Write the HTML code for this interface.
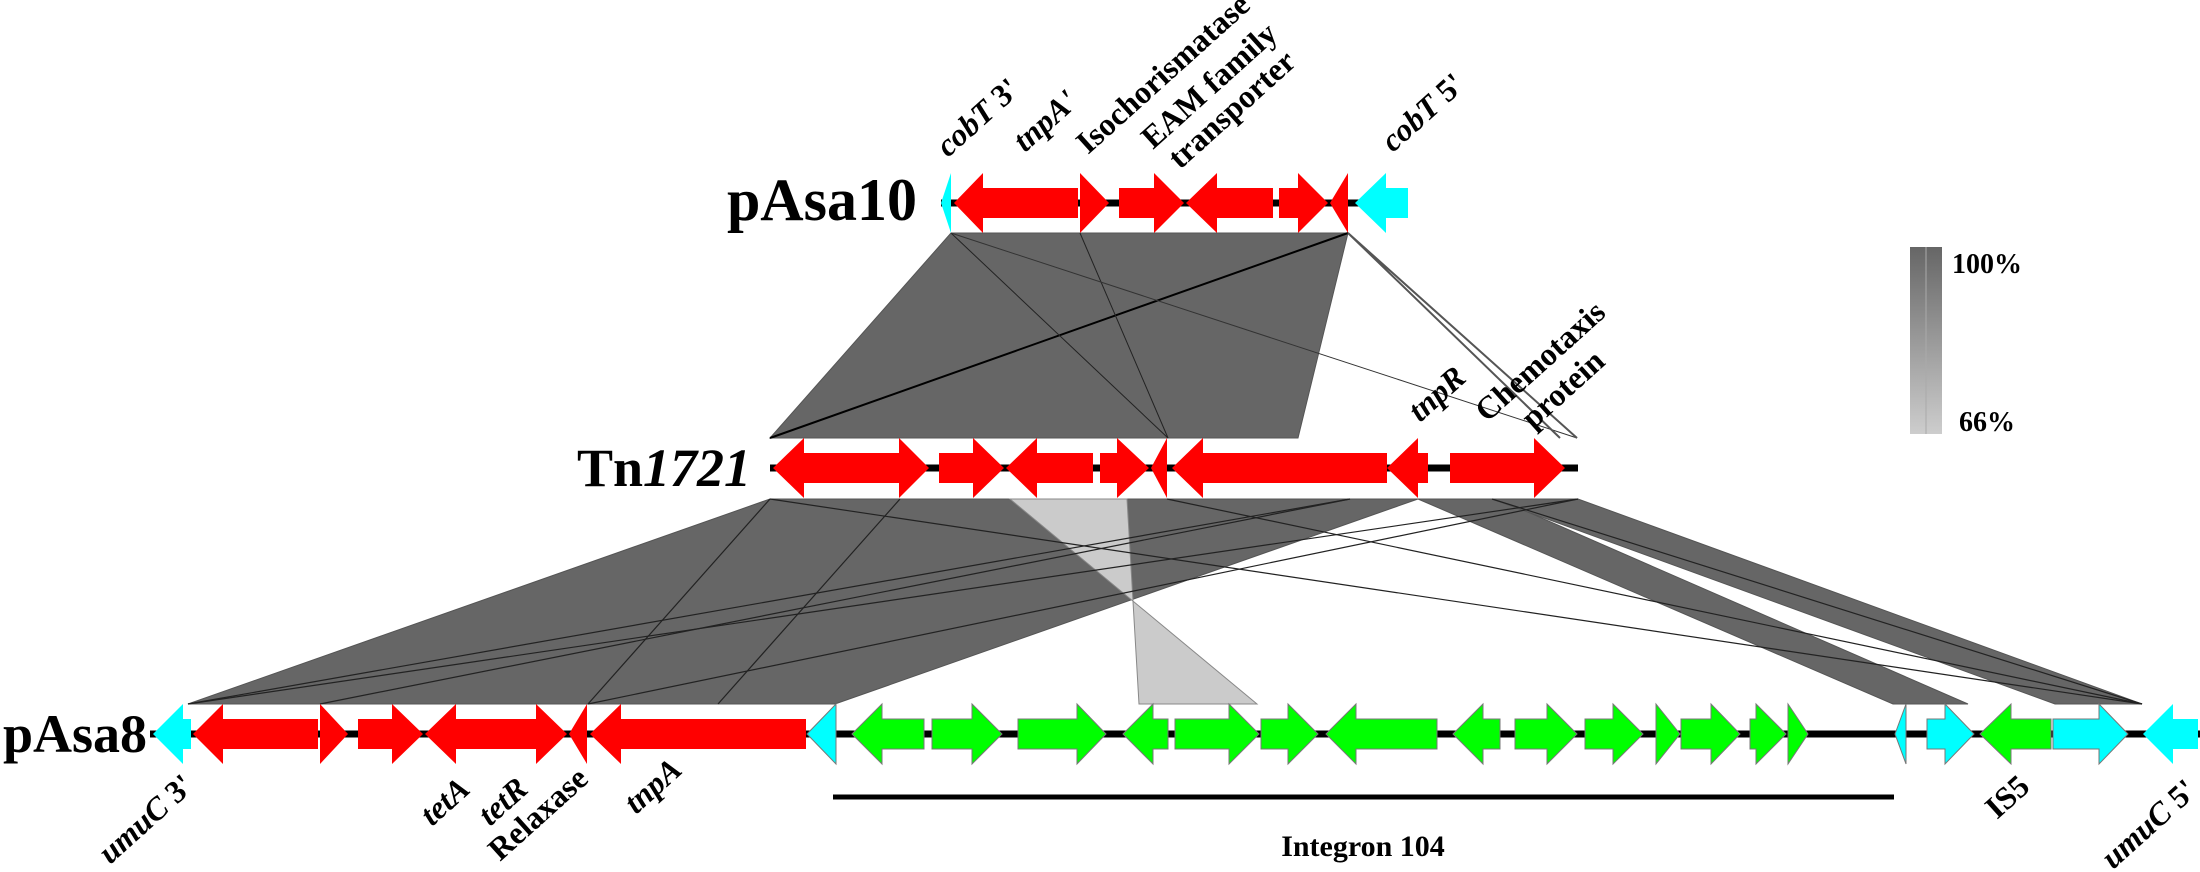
<!DOCTYPE html>
<html><head><meta charset="utf-8"><style>
html,body{margin:0;padding:0;background:#fff;}
svg{display:block;}
text{font-family:"Liberation Serif",serif;font-weight:bold;fill:#000;}
.i{font-style:italic;}
</style></head><body>
<svg width="2200" height="872" viewBox="0 0 2200 872" xmlns="http://www.w3.org/2000/svg">
<defs>
<linearGradient id="lg" x1="0" y1="0" x2="0" y2="1"><stop offset="0" stop-color="#666"/><stop offset="1" stop-color="#cdcdcd"/></linearGradient>
</defs>
<!-- top shading -->
<polygon points="951,233 1348,233 1298,438 770,438" fill="#666" stroke="#555" stroke-width="1"/>
<line x1="770" y1="438" x2="1348" y2="233" stroke="#000" stroke-width="2"/>
<line x1="951" y1="233" x2="1168" y2="438" stroke="#222" stroke-width="1"/>
<line x1="1080" y1="233" x2="1168" y2="438" stroke="#222" stroke-width="1"/>
<line x1="951" y1="233" x2="1577" y2="438" stroke="#333" stroke-width="1"/>
<polyline points="1560,438 1348,233 1577,438" fill="none" stroke="#555" stroke-width="2"/>
<!-- bottom shading -->
<polygon points="770,499 1418,499 835,704 188,704" fill="#666" stroke="#555" stroke-width="1"/>
<path d="M1010,499 L1127,499 L1139,704 L1257,704 Z" fill="#cbcbcb" stroke="#888" stroke-width="1"/>
<polygon points="1418,499 1498,499 1968,704 1893,704" fill="#666" stroke="#555" stroke-width="1"/>
<polygon points="1492,499 1578,499 2142,704 2055,704" fill="#666" stroke="#555" stroke-width="1"/>
<g stroke="#222" stroke-width="1.2" fill="none">
<line x1="770" y1="499" x2="588" y2="704"/>
<line x1="900" y1="499" x2="718" y2="704"/>
<line x1="1578" y1="499" x2="188" y2="704"/>
<line x1="1350" y1="499" x2="188" y2="704"/>
<line x1="1578" y1="499" x2="588" y2="704"/>
<line x1="1350" y1="499" x2="320" y2="704"/>
<line x1="770" y1="499" x2="2142" y2="704"/>
<line x1="1167" y1="499" x2="2142" y2="704"/>
<line x1="1492" y1="499" x2="2142" y2="704"/>
</g>
<!-- backbone lines -->
<line x1="941" y1="203" x2="1362" y2="203" stroke="#000" stroke-width="7"/>
<line x1="770" y1="468" x2="1578" y2="468" stroke="#000" stroke-width="7"/>
<line x1="150" y1="734" x2="2200" y2="734" stroke="#000" stroke-width="7"/>
<!-- pAsa10 genes -->
<g fill="#f00">
<polygon points="954,203 983,173 983,188 1078,188 1078,218 983,218 983,233"/>
<polygon points="1080,173 1109,203 1080,233"/>
<polygon points="1119,188 1154,188 1154,173 1184,203 1154,233 1154,218 1119,218"/>
<polygon points="1186,203 1217,173 1217,188 1273,188 1273,218 1217,218 1217,233"/>
<polygon points="1279,188 1298,188 1298,173 1328,203 1298,233 1298,218 1279,218"/>
<polygon points="1330,203 1348,173 1348,233"/>
</g>
<g fill="#0ff">
<polygon points="941,203 951,173 951,233"/>
<polygon points="1355,203 1386,173 1386,188 1408,188 1408,218 1386,218 1386,233"/>
</g>
<!-- Tn1721 genes -->
<g fill="#f00">
<polygon points="773,468 804,438 804,453 899,453 899,483 804,483 804,498"/>
<polygon points="899,438 929,468 899,498"/>
<polygon points="939,453 973,453 973,438 1004,468 973,498 973,483 939,483"/>
<polygon points="1006,468 1037,438 1037,453 1093,453 1093,483 1037,483 1037,498"/>
<polygon points="1100,453 1117,453 1117,438 1149,468 1117,498 1117,483 1100,483"/>
<polygon points="1151,468 1167,438 1167,498"/>
<polygon points="1172,468 1203,438 1203,453 1387,453 1387,483 1203,483 1203,498"/>
<polygon points="1387,468 1418,438 1418,453 1428,453 1428,483 1418,483 1418,498"/>
<polygon points="1450,453 1534,453 1534,438 1565,468 1534,498 1534,483 1450,483"/>
</g>
<!-- pAsa8 genes -->
<g fill="#f00">
<polygon points="193,734 223,704 223,719 318,719 318,749 223,749 223,764"/>
<polygon points="320,704 348,734 320,764"/>
<polygon points="358,719 392,719 392,704 423,734 392,764 392,749 358,749"/>
<polygon points="425,734 456,704 456,719 536,719 536,749 456,749 456,764"/>
<polygon points="536,704 567,734 536,764"/>
<polygon points="569,734 587,704 587,764"/>
<polygon points="590,734 621,704 621,719 806,719 806,749 621,749 621,764"/>
</g>
<g fill="#0ff" stroke="#777" stroke-width="1">
<polygon points="153,734 183,704 183,719 191,719 191,749 183,749 183,764" stroke="none"/>
<polygon points="807,734 836,704 836,764"/>
<polygon points="1895,734 1906,704 1906,764"/>
<polygon points="1927,719 1945,719 1945,704 1974,734 1945,764 1945,749 1927,749"/>
<polygon points="2053,719 2099,719 2099,704 2128,734 2099,764 2099,749 2053,749"/>
<polygon points="2143,734 2173,704 2173,719 2198,719 2198,749 2173,749 2173,764" stroke="none"/>
</g>
<g fill="#0f0" stroke="#777" stroke-width="1">
<polygon points="852,734 882,704 882,719 924,719 924,749 882,749 882,764"/>
<polygon points="932,719 972,719 972,704 1002,734 972,764 972,749 932,749"/>
<polygon points="1018,719 1077,719 1077,704 1106,734 1077,764 1077,749 1018,749"/>
<polygon points="1123,734 1153,704 1153,719 1168,719 1168,749 1153,749 1153,764"/>
<polygon points="1175,719 1229,719 1229,704 1259,734 1229,764 1229,749 1175,749"/>
<polygon points="1261,719 1288,719 1288,704 1318,734 1288,764 1288,749 1261,749"/>
<polygon points="1326,734 1356,704 1356,719 1437,719 1437,749 1356,749 1356,764"/>
<polygon points="1453,734 1483,704 1483,719 1500,719 1500,749 1483,749 1483,764"/>
<polygon points="1515,719 1547,719 1547,704 1577,734 1547,764 1547,749 1515,749"/>
<polygon points="1585,719 1613,719 1613,704 1643,734 1613,764 1613,749 1585,749"/>
<polygon points="1656,704 1680,734 1656,764"/>
<polygon points="1681,719 1711,719 1711,704 1740,734 1711,764 1711,749 1681,749"/>
<polygon points="1750,719 1756,719 1756,704 1786,734 1756,764 1756,749 1750,749"/>
<polygon points="1788,704 1808,734 1788,764"/>
<polygon points="1980,734 2011,704 2011,719 2051,719 2051,749 2011,749 2011,764"/>
</g>
<!-- integron line -->
<line x1="833" y1="797" x2="1894" y2="797" stroke="#000" stroke-width="5"/>
<text x="1363" y="856" font-size="30" text-anchor="middle">Integron 104</text>
<!-- track names -->
<text x="917" y="220" font-size="60" text-anchor="end">pAsa10</text>
<text x="751" y="486" font-size="54" text-anchor="end">Tn<tspan class="i">1721</tspan></text>
<text x="3" y="752" font-size="54">pAsa8</text>
<!-- rotated labels -->
<g font-size="32">
<text transform="translate(948,158) rotate(-42)"><tspan class="i">cobT</tspan> 3'</text>
<text transform="translate(1025,153) rotate(-42)"><tspan class="i">tnpA'</tspan></text>
<text transform="translate(1088,155) rotate(-42)">Isochorismatase</text>
<text transform="translate(1153,150) rotate(-42)">EAM family</text>
<text transform="translate(1180,170) rotate(-42)">transporter</text>
<text transform="translate(1393,153) rotate(-42)"><tspan class="i">cobT</tspan> 5'</text>
<text transform="translate(1420,423) rotate(-42)"><tspan class="i">tnpR</tspan></text>
<text transform="translate(1487,423) rotate(-42)">Chemotaxis</text>
<text transform="translate(1533,430) rotate(-42)">protein</text>
<text transform="translate(110,865) rotate(-42)"><tspan class="i">umuC</tspan> 3'</text>
<text transform="translate(432,827) rotate(-42)"><tspan class="i">tetA</tspan></text>
<text transform="translate(490,827) rotate(-42)"><tspan class="i">tetR</tspan></text>
<text transform="translate(500,862) rotate(-42)">Relaxase</text>
<text transform="translate(636,815) rotate(-42)"><tspan class="i">tnpA</tspan></text>
<text transform="translate(1997,820) rotate(-42)">IS5</text>
<text transform="translate(2113,870) rotate(-42)"><tspan class="i">umuC</tspan> 5'</text>
</g>
<!-- legend -->
<rect x="1910" y="247" width="32" height="187" fill="url(#lg)"/>
<line x1="1926" y1="247" x2="1926" y2="434" stroke="#aaa" stroke-width="1"/>
<text x="1952" y="273" font-size="28">100%</text>
<text x="1959" y="431" font-size="28">66%</text>
</svg>
</body></html>
